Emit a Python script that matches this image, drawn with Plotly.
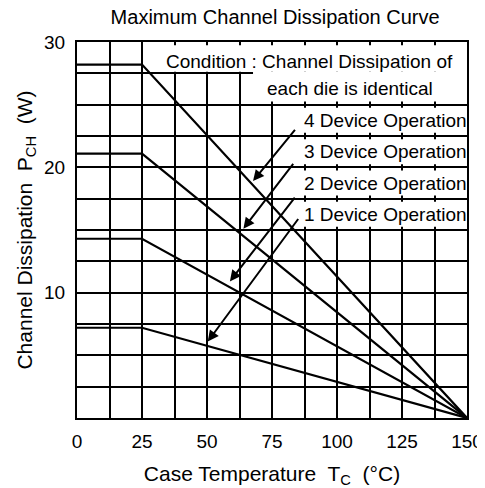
import plotly.graph_objects as go

# ---- data ----
case_temp = [0, 25, 150]
p_4_device = [28.2, 28.2, 0]
p_3_device = [21.1, 21.1, 0]
p_2_device = [14.3, 14.3, 0]
p_1_device = [7.2, 7.2, 0]

x_grid_vals = [0, 12.5, 25, 37.5, 50, 62.5, 75, 87.5, 100, 112.5, 125, 137.5, 150]
x_tick_labels = {0: "0", 25: "25", 50: "50", 75: "75", 100: "100", 125: "125", 150: "150"}
y_grid_vals = [0, 2.5, 5, 7.5, 10, 12.5, 15, 17.5, 20, 22.5, 25, 27.5, 30]
y_tick_labels = {10: "10", 20: "20", 30: "30"}

series_names = ["4 Device Operation", "3 Device Operation", "2 Device Operation", "1 Device Operation"]
series_values = [p_4_device, p_3_device, p_2_device, p_1_device]

FONT = "Liberation Sans, Arial, sans-serif"
FS = 19
TFS = 21

fig = go.Figure()
for name, vals in zip(series_names, series_values):
    fig.add_trace(go.Scatter(x=case_temp, y=vals, mode="lines", name=name,
                             line=dict(color="black", width=2.2), showlegend=False,
                             hoverinfo="skip"))

# white boxes hiding grid behind text
shapes = []
def box(x0, x1, y0, y1):
    shapes.append(dict(type="rect", xref="x", yref="y", x0=x0, x1=x1, y0=y0, y1=y1,
                       fillcolor="white", line=dict(width=0), layer="between"))
box(25.6, 150, 27.62, 29.75)
box(67.7, 150, 25.25, 27.62)
row_centers = [23.75, 21.25, 18.75, 16.25]
for c in row_centers:
    box(85, 150, c - 1.0, c + 1.0)

annotations = []
annotations.append(dict(text="Condition : Channel Dissipation of", x=89.6, y=28.45, xref="x", yref="y",
                        showarrow=False, font=dict(family=FONT, size=FS, color="black")))
annotations.append(dict(text="each die is identical", x=105, y=26.3, xref="x", yref="y",
                        showarrow=False, font=dict(family=FONT, size=FS, color="black")))
for name, c in zip(series_names, row_centers):
    annotations.append(dict(text=name, x=86.6, y=c, xref="x", yref="y", xanchor="left",
                            showarrow=False, font=dict(family=FONT, size=FS, color="black")))

arrows = [  # (tip_x, tip_y, tail_x, tail_y)
    (67.7, 18.9, 84.3, 23.1),
    (64.0, 15.1, 83.6, 20.4),
    (58.8, 10.9, 84.2, 17.7),
    (50.3, 6.1, 85.5, 16.0),
]
for tx, ty, sx, sy in arrows:
    annotations.append(dict(text="", x=tx, y=ty, ax=sx, ay=sy, xref="x", yref="y",
                            axref="x", ayref="y", showarrow=True, arrowhead=2,
                            arrowsize=1.1, arrowwidth=2, arrowcolor="black"))

# page body has an 8px default margin; compensate so the plot lands where intended
fig.update_layout(
    width=477, height=480,
    margin=dict(l=69, r=18, t=34, b=70, autoexpand=False),
    paper_bgcolor="white", plot_bgcolor="white",
    font=dict(family=FONT, size=FS, color="black"),
    title=dict(text="Maximum Channel Dissipation Curve", x=0.56, xanchor="center",
               y=1 - 2 / 480, yanchor="top", yref="container",
               font=dict(family=FONT, size=20, color="black")),
    shapes=shapes,
    annotations=annotations,
    xaxis=dict(range=[0, 150], tickmode="array", tickvals=x_grid_vals,
               ticktext=[x_tick_labels.get(v, "") for v in x_grid_vals],
               showgrid=True, gridcolor="black", gridwidth=2,
               showline=True, linecolor="black", linewidth=2, mirror=True,
               zeroline=False, ticks="", ticklabelstandoff=5, automargin=False,
               tickfont=dict(family=FONT, size=FS, color="black"),
               title=dict(text="Case Temperature  T<sub>C</sub>  (°C)", standoff=16,
                          font=dict(family=FONT, size=TFS, color="black"))),
    yaxis=dict(range=[0, 30], tickmode="array", tickvals=y_grid_vals,
               ticktext=[y_tick_labels.get(v, "") for v in y_grid_vals],
               showgrid=True, gridcolor="black", gridwidth=2,
               showline=True, linecolor="black", linewidth=2, mirror=True,
               zeroline=False, ticks="", ticklabelstandoff=6, automargin=False,
               tickfont=dict(family=FONT, size=FS, color="black"),
               title=dict(text="Channel Dissipation  P<sub>CH</sub>  (W)", standoff=6,
                          font=dict(family=FONT, size=TFS, color="black"))),
)

fig.write_html("out.html")
